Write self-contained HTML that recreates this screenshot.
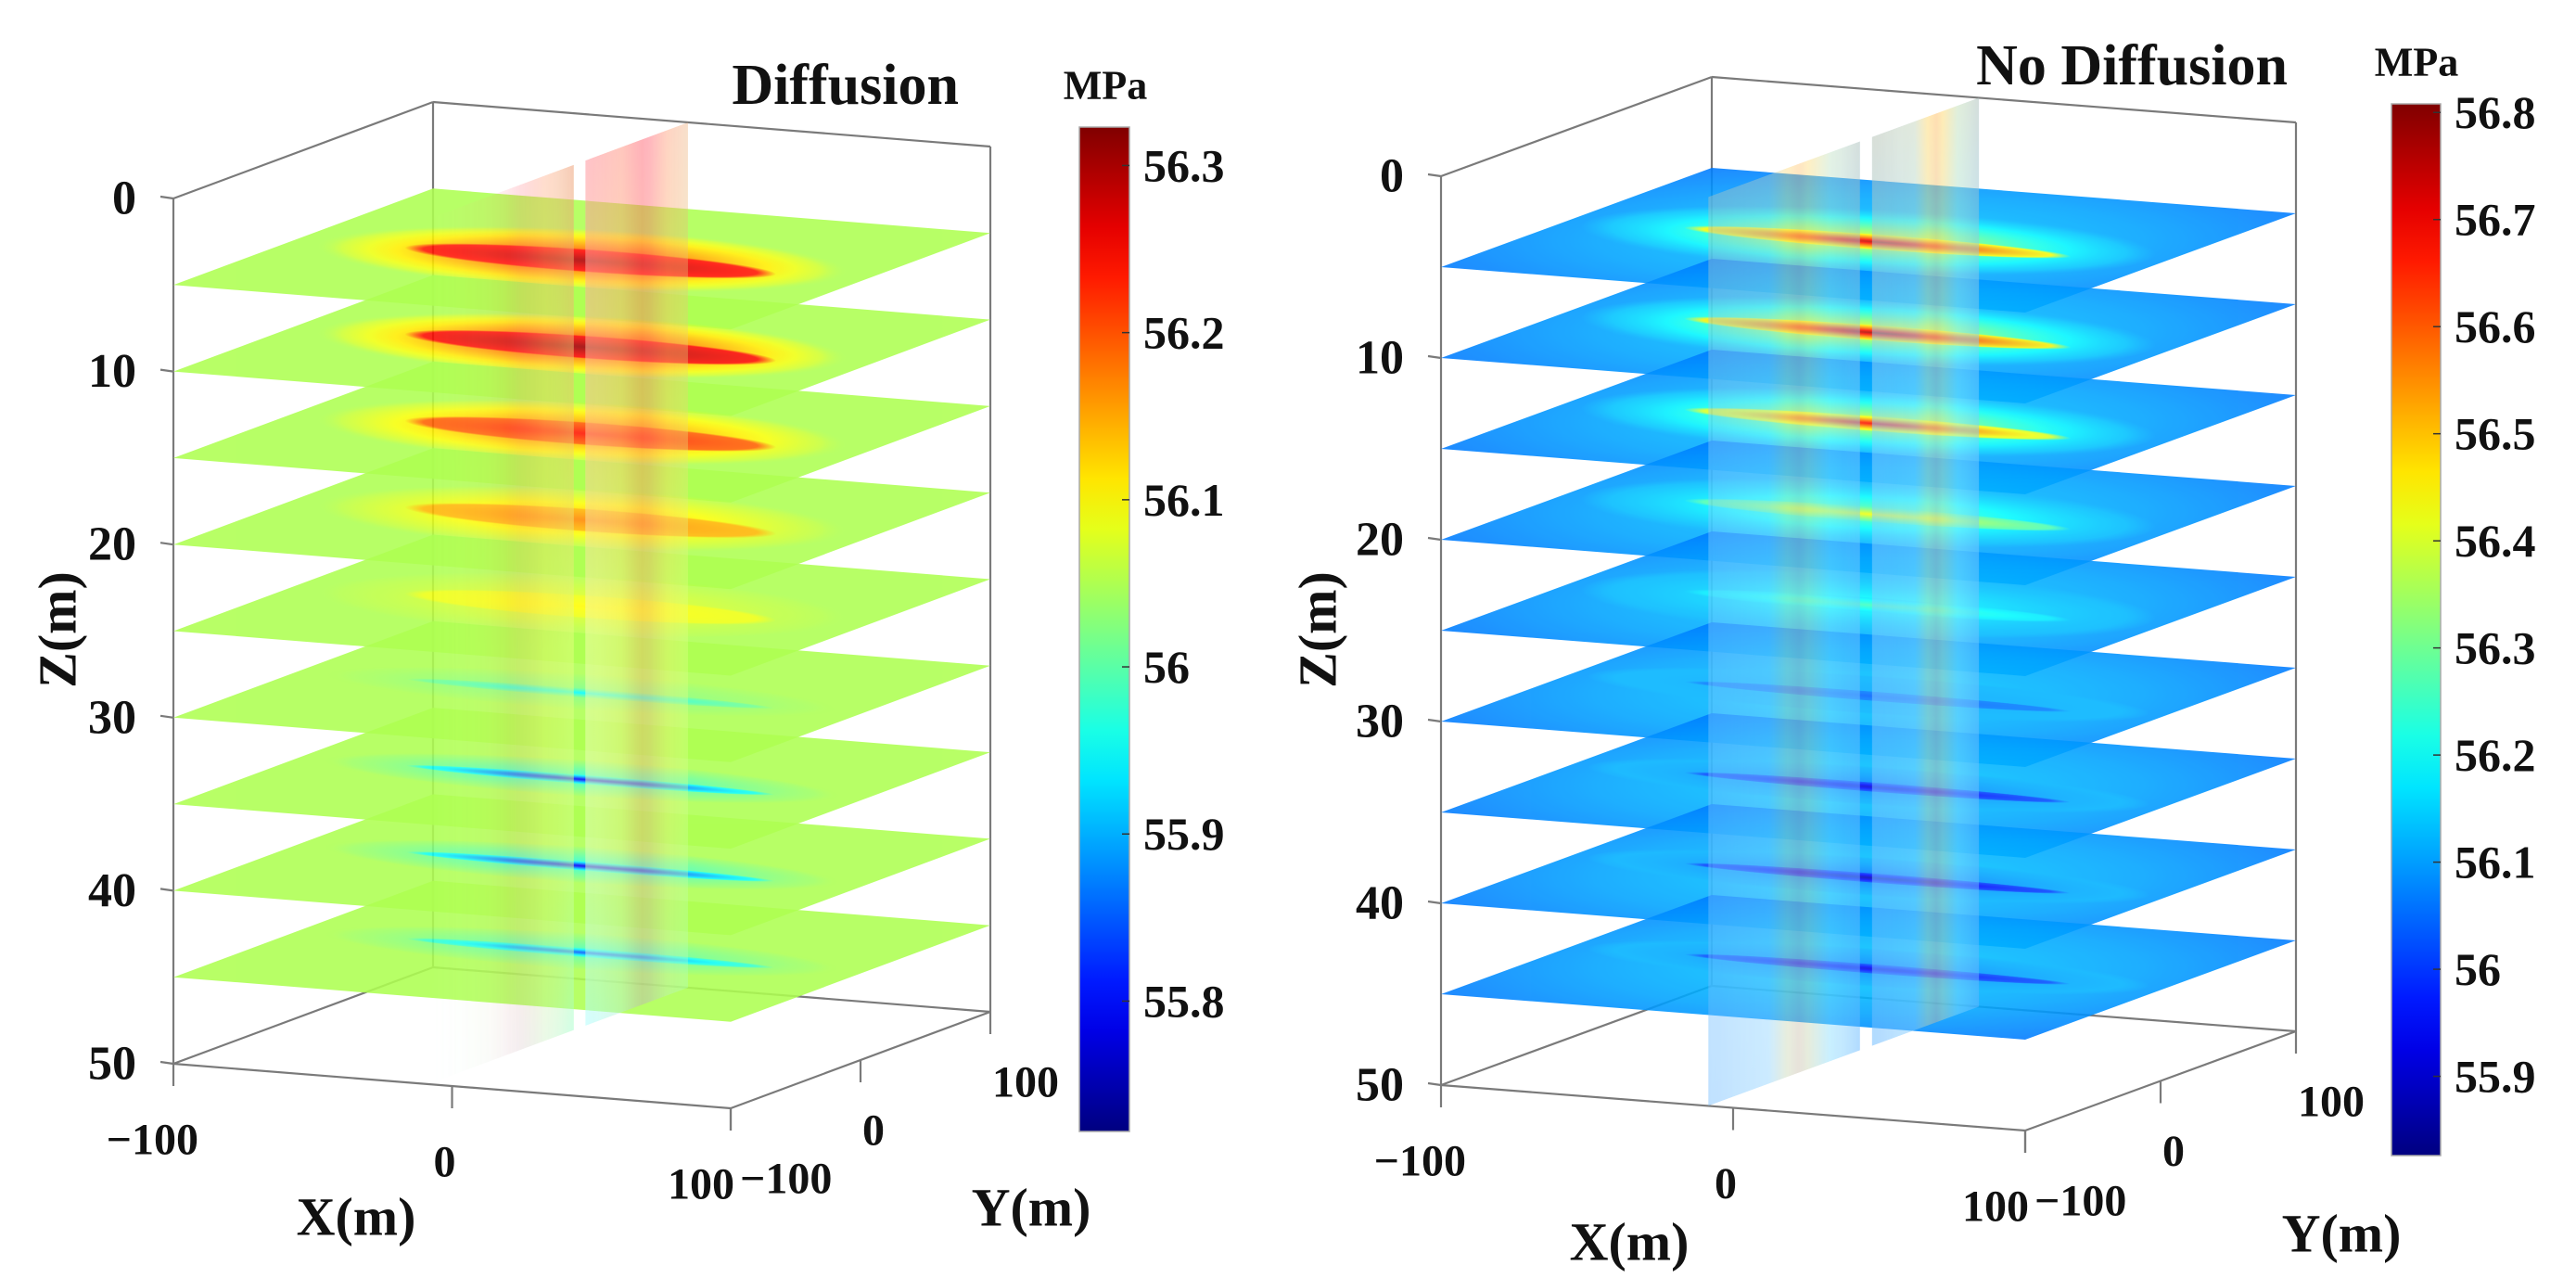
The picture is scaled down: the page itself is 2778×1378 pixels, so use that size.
<!DOCTYPE html>
<html><head><meta charset="utf-8"><title>Pressure slices: Diffusion vs No Diffusion</title>
<style>
html,body{margin:0;padding:0;background:#fff;}
svg{display:block;}
text{font-family:"Liberation Serif","DejaVu Serif",serif;font-weight:bold;fill:#111;}
</style></head>
<body>
<svg id="fig" width="2778" height="1378" viewBox="0 0 2778 1378" xmlns="http://www.w3.org/2000/svg">
<defs id="defs"></defs>
</svg>
<script>
// ---- data ----
const planeZ = [5, 10, 15, 20, 25, 30, 35, 40, 45];
const leftPeak = [56.30, 56.31, 56.24, 56.17, 56.10, 55.94, 55.78, 55.77, 55.84];
const rightPeak = [56.76, 56.78, 56.70, 56.44, 56.26, 56.04, 55.90, 55.87, 55.91];
const leftBase = 56.05;
const rightBase = 56.08;
const zTicks = [0, 10, 20, 30, 40, 50];
const xTicks = [-100, 0, 100];
const yTicks = [-100, 0, 100];
const leftCbTicks = [56.3, 56.2, 56.1, 56.0, 55.9, 55.8];
const leftCbLabels = ["56.3", "56.2", "56.1", "56", "55.9", "55.8"];
const rightCbTicks = [56.8, 56.7, 56.6, 56.5, 56.4, 56.3, 56.2, 56.1, 56.0, 55.9];
const rightCbLabels = ["56.8", "56.7", "56.6", "56.5", "56.4", "56.3", "56.2", "56.1", "56", "55.9"];

const NS = "http://www.w3.org/2000/svg";
const svg = document.getElementById('fig');
const defs = document.getElementById('defs');
let gid = 0;

function mk(tag, attrs, parent) {
  const e = document.createElementNS(NS, tag);
  for (const k in attrs) e.setAttribute(k, attrs[k]);
  (parent || svg).appendChild(e);
  return e;
}
function clamp(v) { return Math.max(0, Math.min(1, v)); }
function jet(t) {
  t = clamp(t);
  const r = clamp(1.5 - Math.abs(4 * t - 3));
  const g = clamp(1.5 - Math.abs(4 * t - 2));
  const b = clamp(1.5 - Math.abs(4 * t - 1));
  return `rgb(${Math.round(r * 255)},${Math.round(g * 255)},${Math.round(b * 255)})`;
}

function panel(cfg) {
  const P = cfg;
  const norm = v => (v - P.vmin) / (P.vmax - P.vmin);
  const uOf = X => X + 100, vOf = Y => Y + 100;
  function proj(X, Y, Z) {
    const u = uOf(X), v = vOf(Y);
    return [P.ox + P.ux * u + P.vx * v, P.oy + P.uy * u + P.vy * v + P.zs * Z];
  }
  const root = mk('g', {});
  
  

  const box = mk('g', {stroke: '#7a7a7a', 'stroke-width': 2.2, fill: 'none'}, root);
  
  
  const segs = [
    [[-100, -100, 0], [-100, -100, 50]],
    [[-100, 100, 0], [-100, 100, 50]],
    [[100, 100, 0], [100, 100, 50]],
    [[-100, -100, 0], [-100, 100, 0]],
    [[-100, 100, 0], [100, 100, 0]],
    [[-100, -100, 50], [-100, 100, 50]],
    [[-100, 100, 50], [100, 100, 50]],
    [[-100, -100, 50], [100, -100, 50]],
    [[100, -100, 50], [100, 100, 50]]
  ];
  segs.forEach(s => {
    const a = proj(...s[0]), b = proj(...s[1]);
    mk('line', {x1: a[0], y1: a[1], x2: b[0], y2: b[1]}, box);
  });

  const planesG = mk('g', {}, root);
  
  
  planeZ.forEach((z, i) => {
    const o = proj(-100, -100, z);
    const g = mk('g', {transform: `matrix(${P.ux},${P.uy},${P.vx},${P.vy},${o[0]},${o[1]})`, opacity: 0.88}, planesG);
    
    
    const peak = P.peaks[i];
    const hot = peak >= P.base;
    const hAmp = hot ? P.haloAmp : P.coldHaloAmp;
    const cry = hot ? P.cry : P.coldCry;
    const bgId = 'pb' + (gid++);
    const bg = mk('radialGradient', {id: bgId, cx: 0.5, cy: 0.5, r: 0.75}, defs);
    const lift = P.haloLift;
    mk('stop', {offset: 0, 'stop-color': jet(norm(P.base + lift))}, bg);
    mk('stop', {offset: 0.55, 'stop-color': jet(norm(P.base + lift * 0.4))}, bg);
    mk('stop', {offset: 1, 'stop-color': jet(norm(P.base - P.edgeDrop))}, bg);
    mk('rect', {x: 0, y: 0, width: 200, height: 200, fill: `url(#${bgId})`}, g);
    const hId = 'h' + (gid++);
    const hg = mk('radialGradient', {id: hId}, defs);
    for (let k = 0; k <= 10; k++) {
      const of = k / 10;
      const val = P.base + lift * 0.6 + (peak - P.base) * hAmp * Math.pow(1 - of, P.haloPow);
      mk('stop', {offset: of, 'stop-color': jet(norm(val)), 'stop-opacity': k === 10 ? 0 : 1}, hg);
    }
    mk('ellipse', {cx: 100, cy: 100, rx: P.hrx, ry: hot ? P.hry : P.hry * 0.6, fill: `url(#${hId})`}, g);
    const cId = 'c' + (gid++);
    const cg = mk('radialGradient', {id: cId}, defs);
    for (let k = 0; k <= 10; k++) {
      const of = k / 10;
      const val = P.base + (peak - P.base) * (hAmp + (1 - hAmp) * Math.pow(1 - of, 1.2));
      mk('stop', {offset: of, 'stop-color': jet(norm(val)), 'stop-opacity': k === 10 ? 0 : 0.95}, cg);
    }
    mk('ellipse', {cx: 104, cy: 98, rx: P.crx, ry: cry, fill: `url(#${cId})`}, g);
  });

  // vertical slice at X = -8.5 spanning Y, Z
  const X0 = -8.5;
  const so = proj(X0, -100, 0);
  const sg = mk('g', {transform: `matrix(${P.vx},${P.vy},0,${P.zs},${so[0]},${so[1]})`, opacity: P.sliceOpacity}, root);
  
  
  const vId = 'v' + (gid++);
  const vg = mk('linearGradient', {id: vId, x1: 0, y1: 0, x2: 0, y2: 1}, defs);
  P.sliceStops.forEach(s => mk('stop', {offset: s[0], 'stop-color': s[1]}, vg));
  const hId2 = 'sh' + (gid++);
  const hg2 = mk('linearGradient', {id: hId2, x1: 0, y1: 0, x2: 1, y2: 0}, defs);
  P.sliceH.forEach(s => mk('stop', {offset: s[0], 'stop-color': s[1]}, hg2));
  const mId = 'm' + (gid++);
  const mg = mk('linearGradient', {id: mId, x1: 0, y1: 0, x2: 1, y2: 0}, defs);
  P.sliceMask.forEach(s => mk('stop', {offset: s[0], 'stop-color': '#fff', 'stop-opacity': s[1]}, mg));
  const maskId = 'mk' + (gid++);
  const mask = mk('mask', {id: maskId, maskContentUnits: 'userSpaceOnUse'}, defs);
  mk('rect', {x: 0, y: 0, width: 200, height: 50, fill: `url(#${mId})`}, mask);
  [[0, 112], [121, 79]].forEach(r => {
    mk('rect', {x: r[0], y: 0, width: r[1], height: 50, fill: `url(#${hId2})`, mask: `url(#${maskId})`}, sg);
    mk('rect', {x: r[0], y: 0, width: r[1], height: 50, fill: `url(#${vId})`, mask: `url(#${maskId})`, opacity: P.sliceVOp}, sg);
  });

  const tk = mk('g', {stroke: '#7a7a7a', 'stroke-width': 2.2}, root);
  
  
  const lab = mk('g', {}, root);
  
  
  zTicks.forEach(z => {
    const p = proj(-100, -100, z);
    mk('line', {x1: p[0] - 14, y1: p[1] - 2, x2: p[0], y2: p[1]}, tk);
    const t = mk('text', {x: p[0] - 40, y: p[1], 'text-anchor': 'end', 'dominant-baseline': 'central', 'font-size': 52}, lab);
    t.textContent = String(z);
  });
  xTicks.forEach(X => {
    const p = proj(X, -100, 50);
    mk('line', {x1: p[0], y1: p[1], x2: p[0], y2: p[1] + 24}, tk);
    const t = mk('text', {x: p[0] + (X === -100 ? 27 : 4), y: p[1] + 82, 'text-anchor': 'end', 'dominant-baseline': 'central', 'font-size': 48}, lab);
    t.textContent = X < 0 ? '\u2212' + Math.abs(X) : String(X);
  });
  yTicks.forEach(Y => {
    const p = proj(100, Y, 50);
    mk('line', {x1: p[0], y1: p[1], x2: p[0], y2: p[1] + 24}, tk);
    const t = mk('text', {x: p[0] + (Y === -100 ? 10 : 2), y: p[1] + 76, 'text-anchor': 'start', 'dominant-baseline': 'central', 'font-size': 48}, lab);
    t.textContent = Y < 0 ? '\u2212' + Math.abs(Y) : String(Y);
  });

  let t = mk('text', {x: P.xl[0], y: P.xl[1], 'text-anchor': 'middle', 'dominant-baseline': 'central', 'font-size': 58}, root);
    t.textContent = 'X(m)';
  t = mk('text', {x: P.yl[0], y: P.yl[1], 'text-anchor': 'middle', 'dominant-baseline': 'central', 'font-size': 58}, root);
    t.textContent = 'Y(m)';
  t = mk('text', {x: P.zl[0], y: P.zl[1], 'text-anchor': 'middle', 'dominant-baseline': 'central', 'font-size': 58, transform: `rotate(-90 ${P.zl[0]} ${P.zl[1]})`}, root);
    t.textContent = 'Z(m)';
  t = mk('text', {x: P.title[0], y: P.title[1], 'text-anchor': 'end', 'dominant-baseline': 'central', 'font-size': 62}, root);
    t.textContent = P.titleText;
  t = mk('text', {x: P.unit[0], y: P.unit[1], 'text-anchor': 'middle', 'dominant-baseline': 'central', 'font-size': 44}, root);
    t.textContent = 'MPa';

  const cb = mk('g', {}, root);
  
  
  const cbId = 'cb' + (gid++);
  const cbg = mk('linearGradient', {id: cbId, x1: 0, y1: 1, x2: 0, y2: 0}, defs);
  for (let k = 0; k <= 20; k++) mk('stop', {offset: k / 20, 'stop-color': jet(k / 20)}, cbg);
  const [cx0, cy0, cw, ch] = P.cb;
  mk('rect', {x: cx0, y: cy0, width: cw, height: ch, fill: `url(#${cbId})`, stroke: '#aaa', 'stroke-width': 1.5}, cb);
  const yOf = v => cy0 + ch * (1 - norm(v));
  P.cbTicks.forEach((v, i) => {
    const y = yOf(v);
    mk('line', {x1: cx0 + cw - 8, y1: y, x2: cx0 + cw, y2: y, stroke: '#333', 'stroke-width': 1.5}, cb);
    const tt = mk('text', {x: cx0 + cw + 15, y: y, 'text-anchor': 'start', 'dominant-baseline': 'central', 'font-size': 50}, cb);
    tt.textContent = P.cbLabels[i];
  });
}

panel({
  name: 'diffusion-panel', titleText: 'Diffusion',
  ox: 187, oy: 214, ux: 3.005, uy: 0.24, vx: 1.4, vy: -0.52, zs: 18.66,
  vmin: 55.722, vmax: 56.323, base: leftBase, peaks: leftPeak,
  haloLift: 0.0, edgeDrop: 0.0, haloAmp: 0.75, haloPow: 1.0, coldHaloAmp: 0.3,
  hrx: 92, hry: 55, crx: 66, cry: 20, coldCry: 8,
  sliceOpacity: 0.55, sliceVOp: 0.6,
  sliceH: [[0, '#ffffff'], [0.35, '#ffe0a0'], [0.55, '#ff6070'], [0.62, '#ff7080'], [0.8, '#ffe080'], [1, '#d8ff90']],
  sliceStops: [[0, '#ff5060'], [0.35, '#ffb050'], [0.55, '#eeff70'], [0.8, '#d0ff90'], [1, '#80ffff']],
  sliceMask: [[0, 0.0], [0.3, 0.15], [0.5, 0.6], [0.58, 1], [0.64, 1], [0.8, 0.75], [1, 0.55]],
  xl: [384, 1312], yl: [1112, 1302], zl: [62, 679],
  title: [1034, 92], unit: [1192, 92],
  cb: [1164, 137, 54, 1083], cbTicks: leftCbTicks, cbLabels: leftCbLabels
});
panel({
  name: 'no-diffusion-panel', titleText: 'No Diffusion',
  ox: 1554, oy: 190, ux: 3.15, uy: 0.245, vx: 1.46, vy: -0.535, zs: 19.6,
  vmin: 55.826, vmax: 56.808, base: rightBase, peaks: rightPeak,
  haloLift: 0.07, edgeDrop: 0.02, haloAmp: 0.5, haloPow: 1.4, coldHaloAmp: 0.3,
  hrx: 95, hry: 55, crx: 66, cry: 13, coldCry: 8,
  sliceOpacity: 0.55, sliceVOp: 0.5,
  sliceH: [[0, '#70b8ff'], [0.4, '#90d8ff'], [0.52, '#ffe070'], [0.6, '#ffb060'], [0.66, '#ffe070'], [0.8, '#90f0ff'], [1, '#60b0ff']],
  sliceStops: [[0, '#ffd070'], [0.3, '#a0f0ff'], [1, '#70c0ff']],
  sliceMask: [[0, 0.7], [0.3, 0.6], [0.5, 0.7], [0.6, 1], [0.7, 0.85], [1, 0.9]],
  xl: [1757, 1339], yl: [2525, 1330], zl: [1421, 679],
  title: [2467, 71], unit: [2606, 67],
  cb: [2579, 112, 53, 1134], cbTicks: rightCbTicks, cbLabels: rightCbLabels
});
</script>
</body></html>
